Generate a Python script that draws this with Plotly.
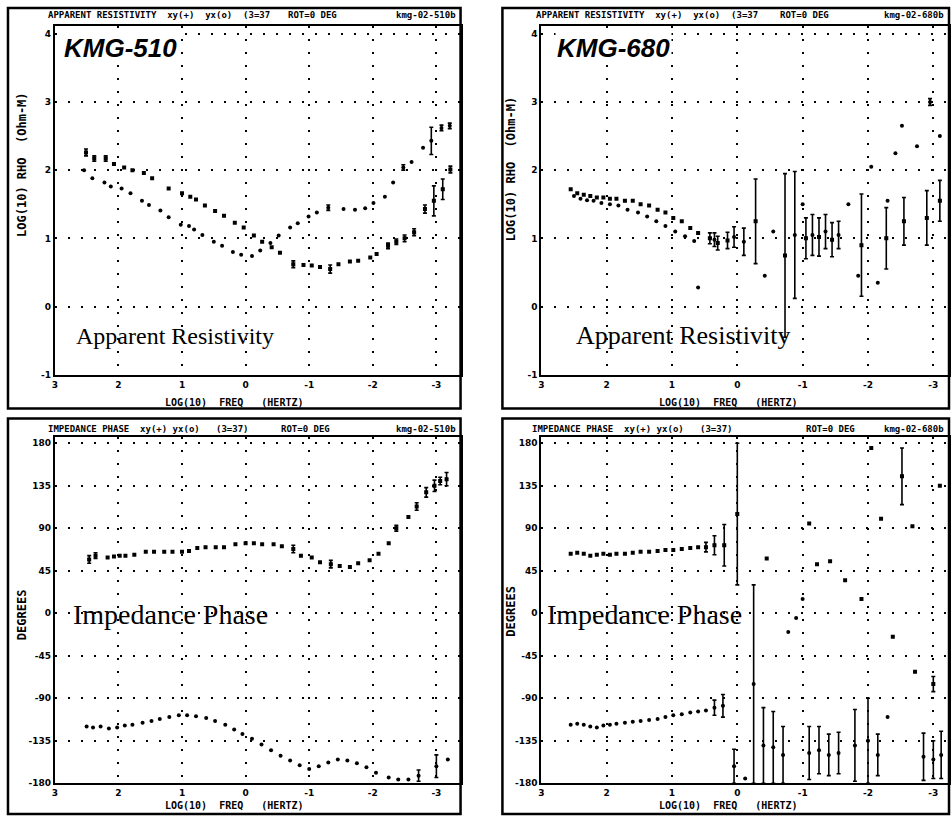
import plotly.graph_objects as go

W, H = 952, 822

# ---------------- data ----------------
freq_ticks = [3, 2, 1, 0, -1, -2, -3]
freq_ticktext = ["3", "2", "1", "0", "-1", "-2", "-3"]
rho_ticks = [4, 3, 2, 1, 0, -1]
rho_ticktext = ["4", "3", "2", "1", "0", "-1"]
phase_ticks = [180, 135, 90, 45, 0, -45, -90, -135, -180]
phase_ticktext = ["180", "135", "90", "45", "0", "-45", "-90", "-135", "-180"]

# KMG-510 apparent resistivity
lr_xy_x = [2.51, 2.38, 2.20, 2.07, 1.91, 1.78, 1.60, 1.47, 1.21, 1.00, 0.87, 0.78, 0.64, 0.48, 0.34, 0.17, 0.03, -0.13, -0.26, -0.41,
           -0.54, -0.75, -0.91, -1.04, -1.17, -1.33, -1.46, -1.64, -1.77, -1.96, -2.06, -2.24, -2.37, -2.50, -2.65, -2.82, -2.96, -3.10, -3.22]
lr_xy_y = [2.26, 2.17, 2.17, 2.09, 2.04, 2.00, 1.96, 1.88, 1.73, 1.66, 1.61, 1.57, 1.48, 1.40, 1.33, 1.23, 1.16, 1.04, 0.95, 0.87,
           0.79, 0.62, 0.61, 0.60, 0.58, 0.55, 0.62, 0.66, 0.67, 0.72, 0.77, 0.89, 0.95, 1.00, 1.09, 1.43, 1.55, 1.72, 2.01]
lr_xy_err = [0.05, 0.04, 0.04, 0, 0, 0, 0, 0, 0, 0, 0, 0, 0, 0, 0, 0, 0, 0, 0, 0,
             0, 0.05, 0, 0, 0, 0.06, 0, 0, 0, 0, 0, 0.04, 0.04, 0.05, 0.05, 0.06, 0.22, 0.15, 0.05]
lr_yx_x = [2.54, 2.41, 2.22, 2.12, 1.95, 1.81, 1.63, 1.52, 1.34, 1.21, 1.02, 0.89, 0.81, 0.68, 0.50, 0.37, 0.20, 0.07, -0.10, -0.23,
           -0.39, -0.52, -0.70, -0.82, -0.99, -1.12, -1.30, -1.54, -1.72, -1.88, -2.01, -2.19, -2.32, -2.48, -2.61, -2.79, -2.92, -3.08, -3.21]
lr_yx_y = [2.00, 1.88, 1.82, 1.76, 1.73, 1.66, 1.55, 1.49, 1.41, 1.31, 1.20, 1.18, 1.13, 1.05, 0.95, 0.89, 0.80, 0.76, 0.74, 0.82,
           0.93, 1.04, 1.16, 1.22, 1.32, 1.38, 1.45, 1.43, 1.42, 1.44, 1.52, 1.61, 1.82, 2.04, 2.12, 2.33, 2.43, 2.62, 2.65]
lr_yx_err = [0, 0, 0, 0, 0, 0, 0, 0, 0, 0, 0, 0, 0, 0, 0, 0, 0, 0, 0, 0,
             0, 0, 0, 0, 0, 0, 0.04, 0, 0, 0, 0, 0, 0, 0.04, 0, 0, 0.2, 0.04, 0.04]

# KMG-510 impedance phase
lp_xy_x = [2.46, 2.36, 2.17, 2.07, 1.98, 1.89, 1.75, 1.57, 1.44, 1.28, 1.15, 1.00, 0.89, 0.76, 0.63, 0.47, 0.34, 0.16, 0.00, -0.13,
           -0.26, -0.44, -0.57, -0.75, -0.87, -1.04, -1.17, -1.34, -1.48, -1.64, -1.77, -1.95, -2.09, -2.25, -2.37, -2.56, -2.69, -2.84, -2.97, -3.06, -3.16]
lp_xy_y = [57, 61, 59, 60, 61, 61, 62, 65, 65, 65, 65, 65, 66, 69, 70, 70, 70, 73, 74, 74,
           73, 73, 71, 68, 61, 59, 54, 52, 50, 49, 53, 56, 63, 74, 90, 102, 113, 128, 135, 140, 142]
lp_xy_err = [4, 3, 0, 0, 0, 0, 0, 0, 0, 0, 0, 0, 0, 0, 0, 0, 0, 0, 0, 0,
             0, 0, 0, 4, 0, 0, 0, 4, 0, 0, 0, 0, 0, 0, 3, 0, 4, 5, 6, 4, 7]
lp_yx_x = [2.50, 2.40, 2.28, 2.15, 2.02, 1.90, 1.78, 1.62, 1.48, 1.35, 1.20, 1.05, 0.92, 0.78, 0.62, 0.48, 0.32, 0.18, 0.05, -0.10,
           -0.25, -0.40, -0.55, -0.70, -0.85, -1.00, -1.15, -1.30, -1.45, -1.60, -1.75, -1.90, -2.05, -2.25, -2.40, -2.56, -2.72, -3.00, -3.18]
lp_yx_y = [-120, -121, -120, -122, -121, -119, -118, -116, -114, -112, -110, -108, -108, -109, -111, -114, -118, -123, -128, -133,
           -139, -145, -151, -156, -161, -165, -162, -158, -155, -156, -159, -163, -169, -174, -176, -176, -172, -162, -155]
lp_yx_err = [0, 0, 0, 0, 0, 0, 0, 0, 0, 0, 0, 0, 0, 0, 0, 0, 0, 0, 0, 0,
             0, 0, 0, 0, 0, 0, 0, 0, 0, 0, 0, 0, 0, 0, 0, 0, 6, 12, 0]

# KMG-680 apparent resistivity
rr_xy_x = [2.55, 2.45, 2.35, 2.25, 2.15, 2.05, 1.95, 1.85, 1.72, 1.60, 1.48, 1.35, 1.22, 1.10, 0.98, 0.85, 0.72, 0.60,
           0.42, 0.30, 0.15, -0.28, -0.73, -1.05, -1.25, -1.45, -1.90, -2.28, -2.55, -2.90, -3.10]
rr_xy_y = [1.72, 1.66, 1.64, 1.62, 1.60, 1.60, 1.58, 1.58, 1.55, 1.55, 1.50, 1.48, 1.42, 1.38, 1.30, 1.25, 1.15, 1.08,
           1.00, 0.93, 0.97, 1.25, 0.75, 1.00, 1.02, 0.98, 0.90, 1.00, 1.25, 1.30, 1.55]
rr_xy_err = [0, 0, 0, 0, 0, 0, 0, 0, 0, 0, 0, 0, 0, 0, 0, 0, 0, 0,
             0.08, 0.10, 0.12, 0.62, 1.2, 0.3, 0.28, 0.25, 0.75, 0.45, 0.35, 0.4, 0.3]
rr_yx_x = [2.50, 2.40, 2.30, 2.20, 2.08, 1.95, 1.82, 1.68, 1.52, 1.38, 1.24, 1.10, 0.95, 0.80, 0.66, 0.60, 0.35, 0.05, -0.10, -0.42,
           -0.55, -0.88, -1.00, -1.15, -1.35, -1.55, -1.70, -1.85, -2.05, -2.15, -2.30, -2.42, -2.52, -2.75, -2.95, -3.10]
rr_yx_y = [1.62, 1.58, 1.56, 1.55, 1.52, 1.50, 1.48, 1.42, 1.38, 1.32, 1.25, 1.18, 1.10, 1.03, 0.96, 0.28, 0.98, 1.02, 0.95, 0.45,
           1.10, 1.05, 1.50, 1.05, 1.10, 1.05, 1.50, 0.45, 2.05, 0.35, 1.55, 2.25, 2.65, 2.35, 3.00, 2.50]
rr_yx_err = [0, 0, 0, 0, 0, 0, 0, 0, 0, 0, 0, 0, 0, 0, 0, 0, 0.1, 0.15, 0.2, 0,
             0, 0.93, 0, 0.3, 0.25, 0.2, 0, 0, 0, 0, 0, 0, 0, 0, 0.05, 0]

# KMG-680 impedance phase
rp_xy_x = [2.55, 2.45, 2.35, 2.25, 2.15, 2.05, 1.95, 1.85, 1.72, 1.60, 1.48, 1.35, 1.22, 1.10, 0.98, 0.85, 0.72, 0.60,
           0.48, 0.35, 0.20, 0.00, -0.45, -1.10, -1.22, -1.42, -1.65, -1.90, -2.05, -2.20, -2.38, -2.52, -2.68, -2.72, -3.00, -3.10]
rp_xy_y = [63, 64, 63, 61, 62, 63, 62, 63, 63, 64, 65, 65, 66, 67, 67, 68, 69, 70,
           70, 72, 72, 105, 58, 95, 52, 55, 35, 15, 175, 100, -25, 145, 92, -62, -75, 135]
rp_xy_err = [0, 0, 0, 0, 0, 0, 0, 0, 0, 0, 0, 0, 0, 0, 0, 0, 0, 0,
             5, 10, 22, 75, 0, 0, 0, 0, 0, 0, 0, 0, 0, 30, 0, 0, 8, 0]
rp_yx_x = [2.55, 2.45, 2.35, 2.25, 2.15, 2.05, 1.95, 1.85, 1.72, 1.60, 1.48, 1.35, 1.22, 1.10, 0.98, 0.85, 0.72, 0.60, 0.48,
           0.35, 0.22, 0.05, -0.12, -0.25, -0.40, -0.55, -0.70, -0.78, -0.90, -1.00, -1.10, -1.25, -1.40, -1.55, -1.80, -2.00,
           -2.15, -2.30, -2.85, -3.00, -3.12]
rp_yx_y = [-118, -117, -118, -120, -121, -119, -118, -117, -116, -115, -114, -113, -112, -110, -108, -107, -105, -104, -103,
           -100, -98, -162, -175, -75, -140, -142, -150, -20, -5, 15, -148, -145, -150, -148, -140, -135,
           -150, -110, -152, -155, -150]
rp_yx_err = [0, 0, 0, 0, 0, 0, 0, 0, 0, 0, 0, 0, 0, 0, 0, 0, 0, 0, 0,
             8, 12, 18, 0, 105, 40, 38, 30, 0, 0, 0, 28, 25, 22, 22, 38, 45,
             22, 0, 25, 20, 25]

# ---------------- layout helpers ----------------
def fx(p):
    return p / W


def fy(p):
    return 1 - p / H


panels = [
    ("x", "y", (52, 459), (26, 377), [3, -3.38], [-1, 4.117], "rho"),
    ("x2", "y2", (52, 459), (440, 788), [3, -3.38], [-180, 186.3], "phase"),
    ("x3", "y3", (540, 949), (26, 377), [3, -3.24], [-1, 4.117], "rho"),
    ("x4", "y4", (540, 949), (440, 788), [3, -3.24], [-180, 186.3], "phase"),
]

series = [
    (0, lr_xy_x, lr_xy_y, lr_xy_err, "square"),
    (0, lr_yx_x, lr_yx_y, lr_yx_err, "circle"),
    (1, lp_xy_x, lp_xy_y, lp_xy_err, "square"),
    (1, lp_yx_x, lp_yx_y, lp_yx_err, "circle"),
    (2, rr_xy_x, rr_xy_y, rr_xy_err, "square"),
    (2, rr_yx_x, rr_yx_y, rr_yx_err, "circle"),
    (3, rp_xy_x, rp_xy_y, rp_xy_err, "square"),
    (3, rp_yx_x, rp_yx_y, rp_yx_err, "circle"),
]

fig = go.Figure()

for pi, xs, ys, es, sym in series:
    xa, ya = panels[pi][0], panels[pi][1]
    fig.add_trace(go.Scatter(
        x=xs, y=ys, mode="markers", xaxis=xa, yaxis=ya, showlegend=False,
        marker=dict(color="black", size=4, symbol=sym), cliponaxis=True))
    bx = [x for x, e in zip(xs, es) if e > 0]
    by = [y for y, e in zip(ys, es) if e > 0]
    be = [e for e in es if e > 0]
    if bx:
        fig.add_trace(go.Scatter(
            x=bx, y=by, mode="markers", xaxis=xa, yaxis=ya, showlegend=False,
            marker=dict(color="black", size=3, symbol=sym),
            error_y=dict(type="data", array=be, arrayminus=be, visible=True,
                         color="black", thickness=1.6, width=2)))

tickfont = dict(family="DejaVu Sans", size=9, color="black", weight="bold")
layout = dict(width=W, height=H, margin=dict(l=0, r=0, t=0, b=0), autosize=False,
              paper_bgcolor="white", plot_bgcolor="white")

for i, (xa, ya, xd, yd, xr, yr, kind) in enumerate(panels):
    xkey = "xaxis" if xa == "x" else "xaxis" + xa[1:]
    ykey = "yaxis" if ya == "y" else "yaxis" + ya[1:]
    layout[xkey] = dict(
        domain=[fx(xd[0]), fx(xd[1])], range=xr, anchor=ya,
        tickvals=freq_ticks, ticktext=freq_ticktext, tickfont=tickfont,
        showgrid=True, gridcolor="black", gridwidth=1.5, griddash="2px,11px",
        zeroline=False, showline=True, linecolor="black", linewidth=2, mirror=True,
        ticks="", fixedrange=True)
    if kind == "rho":
        tv, tt = rho_ticks, rho_ticktext
    else:
        tv, tt = phase_ticks, phase_ticktext
    layout[ykey] = dict(
        domain=[fy(yd[1]), fy(yd[0])], range=yr, anchor=xa,
        tickvals=tv, ticktext=tt, tickfont=tickfont,
        showgrid=True, gridcolor="black", gridwidth=1.5, griddash="2px,11px",
        zeroline=False, showline=True, linecolor="black", linewidth=2, mirror=True,
        ticks="", fixedrange=True)

fig.update_layout(**layout)

# frames
shapes = []
for (x0, x1, y0, y1) in [(5, 459, 8, 411), (5, 459, 421, 819), (501, 949, 8, 411), (501, 949, 421, 819)]:
    shapes.append(dict(type="rect", xref="paper", yref="paper", x0=fx(x0), x1=fx(x1), y0=fy(y1), y1=fy(y0),
                       line=dict(color="black", width=2.5)))
fig.update_layout(shapes=shapes)

hfont = dict(family="DejaVu Sans Mono", size=9, color="black", weight="bold")
afont = dict(family="DejaVu Sans Mono", size=10, color="black", weight="bold")
yfont = dict(family="DejaVu Sans Mono", size=12, color="black", weight="bold")
ann = []


def text(s, x, y, font, xanchor="center", angle=0, bg=None):
    d = dict(text=s, x=fx(x), y=fy(y), xref="paper", yref="paper", showarrow=False,
             xanchor=xanchor, yanchor="middle", font=font, textangle=angle)
    if bg:
        d["bgcolor"] = bg
    ann.append(d)


# headers
text("APPARENT RESISTIVITY  xy(+)  yx(o)  (3=37", 43, 15, hfont, "left")
text("ROT=0 DEG", 310, 15, hfont)
text("kmg-02-510b", 456, 15, hfont, "right")
text("IMPEDANCE PHASE  xy(+) yx(o)   (3=37)", 43, 432, hfont, "left")
text("ROT=0 DEG", 303, 432, hfont)
text("kmg-02-510b", 456, 432, hfont, "right")
text("APPARENT RESISTIVITY  xy(+)  yx(o)  (3=37", 533, 15, hfont, "left")
text("ROT=0 DEG", 804, 15, hfont)
text("kmg-02-680b", 946, 15, hfont, "right")
text("IMPEDANCE PHASE  xy(+) yx(o)   (3=37)", 529, 432, hfont, "left")
text("ROT=0 DEG", 830, 432, hfont)
text("kmg-02-680b", 946, 432, hfont, "right")

# axis titles
text("LOG(10)  FREQ   (HERTZ)", 232, 405, afont)
text("LOG(10)  FREQ   (HERTZ)", 232, 810, afont)
text("LOG(10)  FREQ   (HERTZ)", 727, 405, afont)
text("LOG(10)  FREQ   (HERTZ)", 727, 810, afont)
text("LOG(10) RHO  (Ohm-M)", 19, 165, yfont, angle=-90)
text("DEGREES", 19, 618, yfont, angle=-90)
text("LOG(10) RHO  (Ohm-M)", 510, 170, yfont, angle=-90)
text("DEGREES", 510, 615, yfont, angle=-90)

# labels
kfont = dict(family="Liberation Sans", size=26, color="black", weight="bold", style="italic")
text("KMG-510", 118, 48, kfont, bg="white")
text("KMG-680", 612, 48, kfont, bg="white")
text("Apparent Resistivity", 173, 338, dict(family="Liberation Serif", size=24, color="black"))
text("Apparent Resistivity", 682, 338, dict(family="Liberation Serif", size=26, color="black"))
pfont = dict(family="Liberation Serif", size=28, color="black")
text("Impedance Phase", 168, 618, pfont)
text("Impedance Phase", 644, 618, pfont)

fig.update_layout(annotations=ann)
fig.write_html(
    "out.html",
    config={"displayModeBar": False},
    post_script="document.body.style.margin='0px';document.body.style.overflow='hidden';",
)
